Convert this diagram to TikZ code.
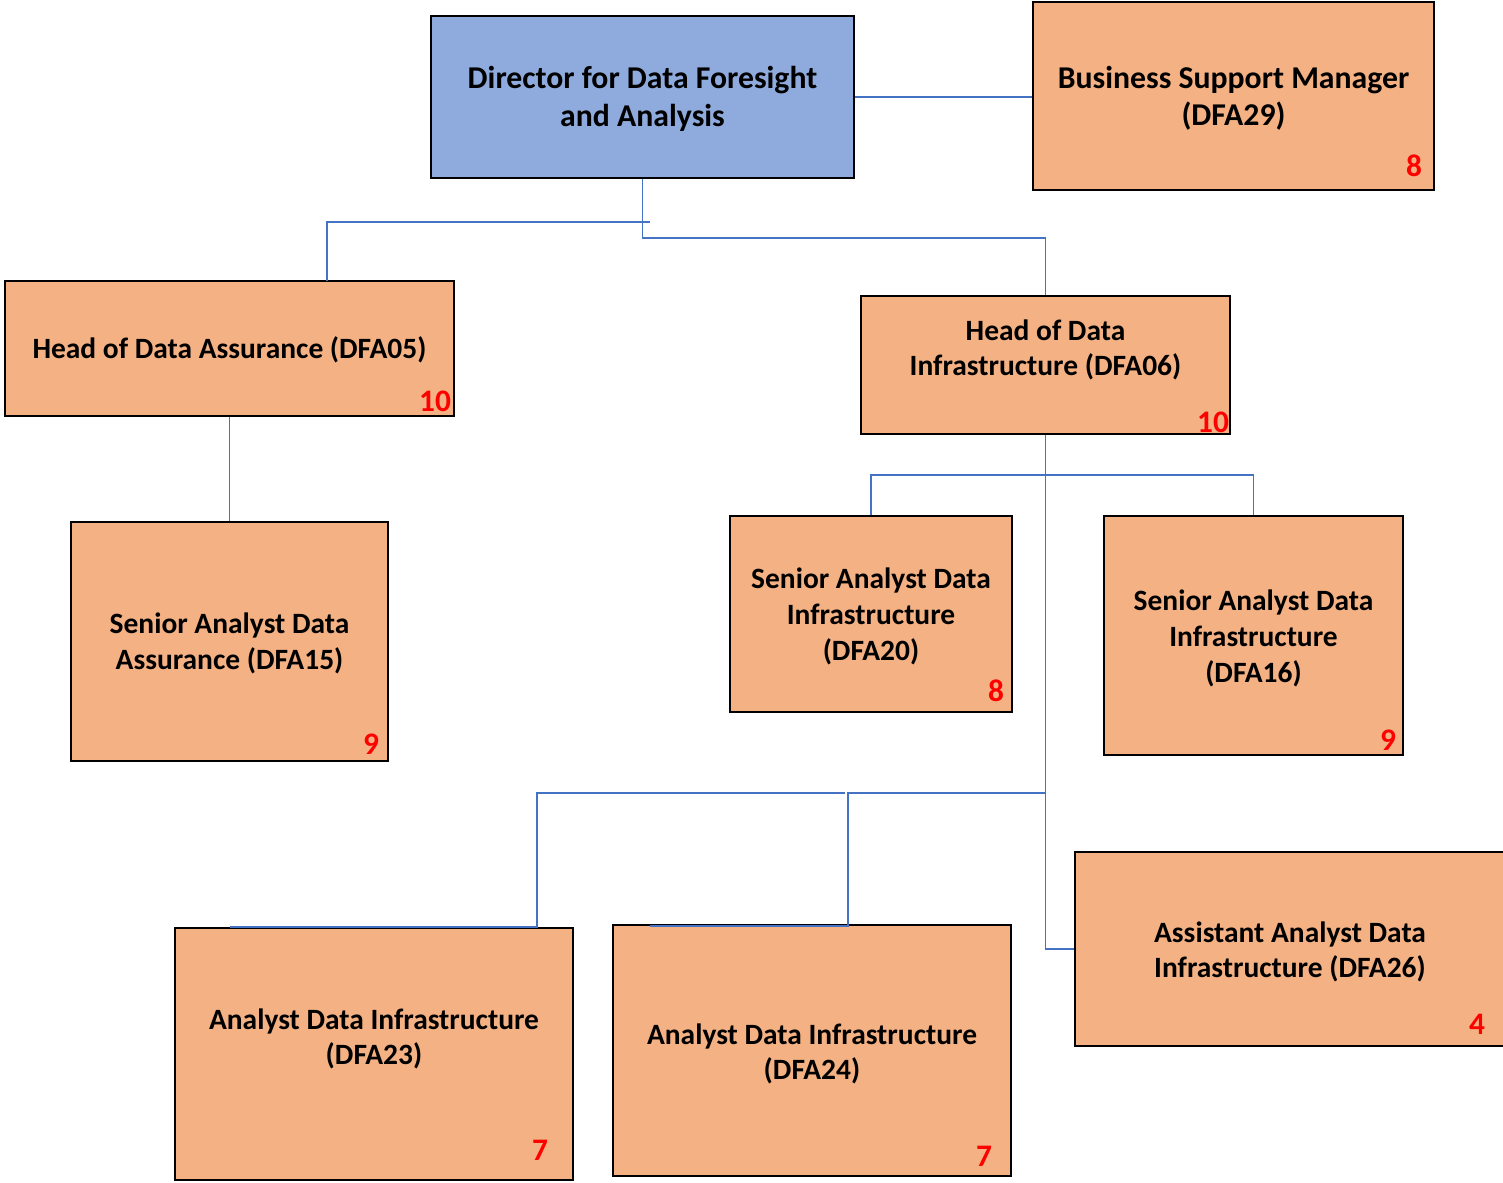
\documentclass[tikz,border=0pt]{standalone}
\usepackage{fontspec}
\setmainfont{Carlito}
\definecolor{orbox}{HTML}{F4B183}
\definecolor{blbox}{HTML}{8FAADC}
\definecolor{conncol}{HTML}{4472C4}
\begin{document}
\begin{tikzpicture}[x=0.75pt,y=-0.75pt,
  box/.style={draw=black, line width=1.4pt, fill=orbox, inner sep=0pt},
  dirbox/.style={box, fill=blbox},
  lbl/.style={align=center, inner sep=0pt, font=\fontsize{22.1}{26.8}\selectfont\bfseries},
  biglbl/.style={lbl, font=\fontsize{23.8}{28}\selectfont\bfseries},
  num/.style={inner sep=0pt, text=red, font=\fontsize{23.5}{27}\selectfont\bfseries},
  conn/.style={draw=conncol, line width=0.9pt}]
\useasboundingbox (0,0) rectangle (1503,1182);
% boxes
\node[dirbox, minimum width=423*0.75pt, minimum height=162*0.75pt] (dir) at (642.5,97) {};
\node[box, minimum width=401*0.75pt, minimum height=188*0.75pt] (bsm) at (1233.5,96) {};
\node[box, minimum width=449*0.75pt, minimum height=135*0.75pt] (ha) at (229.5,348.5) {};
\node[box, minimum width=369*0.75pt, minimum height=138*0.75pt] (hi) at (1045.5,365) {};
\node[box, minimum width=317*0.75pt, minimum height=239*0.75pt] (saa) at (229.5,641.5) {};
\node[box, minimum width=282*0.75pt, minimum height=196*0.75pt] (s20) at (871,614) {};
\node[box, minimum width=299*0.75pt, minimum height=239*0.75pt] (s16) at (1253.5,635.5) {};
\node[box, minimum width=398*0.75pt, minimum height=252*0.75pt] (a23) at (374,1054) {};
\node[box, minimum width=398*0.75pt, minimum height=251*0.75pt] (a24) at (812,1050.5) {};
\node[box, minimum width=430*0.75pt, minimum height=194*0.75pt] (a26) at (1290,949) {};
% texts
\node[biglbl] (dirT) at (642.5,99) {Director for Data Foresight\\and Analysis};
\node[biglbl] (bsmT) at (1233.5,98) {Business Support Manager\\(DFA29)};
\node[lbl] (haT) at (229.5,350) {Head of Data Assurance (DFA05)};
\node[lbl] (hiT) at (1045.5,350) {Head of Data\\Infrastructure (DFA06)};
\node[lbl] (saaT) at (229.5,643.5) {Senior Analyst Data\\Assurance (DFA15)};
\node[lbl] (s20T) at (871,616.5) {Senior Analyst Data\\Infrastructure\\(DFA20)};
\node[lbl] (s16T) at (1253.5,638.5) {Senior Analyst Data\\Infrastructure\\(DFA16)};
\node[lbl] (a23T) at (374,1039) {Analyst Data Infrastructure\\(DFA23)};
\node[lbl] (a24T) at (812,1054) {Analyst Data Infrastructure\\(DFA24)};
\node[lbl] (a26T) at (1290,952) {Assistant Analyst Data\\Infrastructure (DFA26)};
% numbers
\node[num] (bsmN) at (1414,166) {8};
\node[num] (haN) at (435,401) {10};
\node[num] (hiN) at (1213,422) {10};
\node[num] (saaN) at (371,744) {9};
\node[num] (s20N) at (996,691) {8};
\node[num] (s16N) at (1388,740) {9};
\node[num] (a23N) at (540,1150) {7};
\node[num] (a24N) at (984,1156) {7};
\node[num] (a26N) at (1477,1024) {4};
% connector coordinates
\coordinate (tA) at (650,222);
\coordinate (haTop) at (327,281);
\coordinate (j1) at (1045.5,475);
\coordinate (j2) at (1045.5,793);
\coordinate (g2) at (845,793);
\coordinate (a23Top) at (537,927);
\coordinate (a23End) at (230,927);
\coordinate (a24Top) at (848,926);
\coordinate (a24End) at (650,926);
% connectors
\draw[conn] (dir.south) -- ++(0,59) -| (hi.north);
\draw[conn] (tA) -| (haTop);
\draw[conn] (dir.east) -- (dir.east -| bsm.west);
\draw[conn] (ha.south) -- (saa.north);
\draw[conn] (hi.south) |- (a26.west);
\draw[conn] (j1) -| (s20.north);
\draw[conn] (j1) -| (s16.north);
\draw[conn] (j2) -| (a24Top) -- (a24End);
\draw[conn] (g2) -| (a23Top) -- (a23End);
\end{tikzpicture}
\end{document}
